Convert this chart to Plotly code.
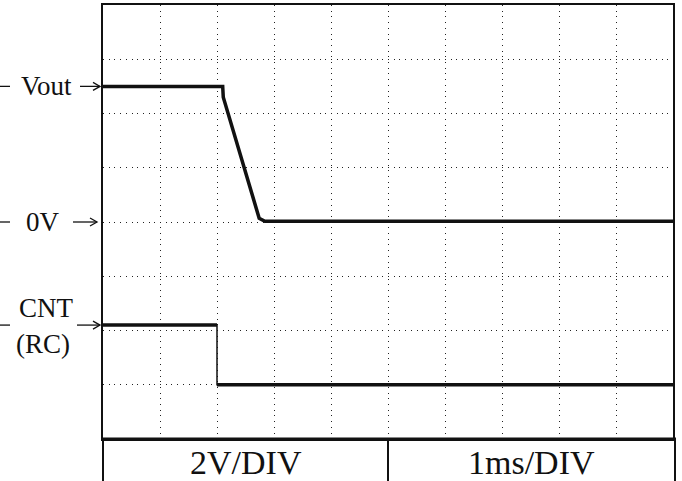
import plotly.graph_objects as go

# Screen layout: 10 horizontal divisions (1 ms each), 8 vertical divisions (2 V each)
X_DIVS = 10
Y_DIVS = 8
VOLTS_PER_DIV = 2.0

# Channel ground positions on the screen (in divisions from the bottom)
VOUT_GROUND_DIV = 4.0
CNT_GROUND_DIV = 1.0

# Vout trace: time in ms, voltage in V
vout_t = [0.0, 2.10, 2.11, 2.74, 2.84, 10.0]
vout_v = [5.0, 5.0, 4.6, 0.14, 0.03, 0.03]

# CNT (RC) trace: time in ms, voltage in V
cnt_t = [0.0, 2.0, 2.0, 10.0]
cnt_v = [2.2, 2.2, 0.0, 0.0]

# Bottom scale legend
scale_labels = ["2V/DIV", "1ms/DIV"]

W, H = 682, 481
PX_LEFT, PX_RIGHT = 103, 673
PX_TOP, PX_BOTTOM = 5, 439
DIV_PX = (PX_BOTTOM - PX_TOP) / Y_DIVS

FONT = "Liberation Serif, Times New Roman, serif"
INK = "#111111"


def to_div(volts, ground):
    return [ground + v / VOLTS_PER_DIV for v in volts]


def px_x(px):
    return px / W


def px_y(py):
    return 1 - py / H


def thick_parts(t, y):
    # break the path at vertical edges so they can be drawn thin
    xs, ys = [t[0]], [y[0]]
    for i in range(1, len(t)):
        if t[i] == t[i - 1]:
            xs.append(None)
            ys.append(None)
        xs.append(t[i])
        ys.append(y[i])
    return xs, ys


vout_y = to_div(vout_v, VOUT_GROUND_DIV)
cnt_y = to_div(cnt_v, CNT_GROUND_DIV)

fig = go.Figure()

fig.add_trace(go.Scatter(x=vout_t, y=vout_y, mode="lines",
                         line=dict(color=INK, width=3.5), hoverinfo="skip"))
fig.add_trace(go.Scatter(x=cnt_t, y=cnt_y, mode="lines",
                         line=dict(color=INK, width=1.5), hoverinfo="skip"))
cx, cy = thick_parts(cnt_t, cnt_y)
fig.add_trace(go.Scatter(x=cx, y=cy, mode="lines", connectgaps=False,
                         line=dict(color=INK, width=3.5), hoverinfo="skip"))

shapes = []
annotations = []

# Left-side markers: dash, label, arrow pointing at the screen edge
vout_level = vout_y[0]
zero_level = VOUT_GROUND_DIV
cnt_level = cnt_y[0]
markers = [
    (vout_level, 80, 100),
    (zero_level, 73, 97),
    (cnt_level, 77, 100),
]
head_dx = 7
head_dy = 4 / DIV_PX
for level, x0, x1 in markers:
    shapes.append(dict(type="line", xref="paper", yref="y",
                       x0=0, x1=px_x(10), y0=level, y1=level,
                       line=dict(color=INK, width=1.3)))
    shapes.append(dict(type="line", xref="paper", yref="y",
                       x0=px_x(x0), x1=px_x(x1), y0=level, y1=level,
                       line=dict(color=INK, width=1.3)))
    path = (f"M{px_x(x1 - head_dx)},{level + head_dy} L{px_x(x1)},{level} "
            f"L{px_x(x1 - head_dx)},{level - head_dy}")
    shapes.append(dict(type="path", xref="paper", yref="y", path=path,
                       line=dict(color=INK, width=1.3)))

label_font = dict(family=FONT, size=27, color=INK)
annotations.append(dict(text="Vout", xref="paper", yref="y", x=px_x(46), y=vout_level,
                        xanchor="center", yanchor="middle", showarrow=False, font=label_font))
annotations.append(dict(text="0V", xref="paper", yref="y", x=px_x(42.5), y=zero_level,
                        xanchor="center", yanchor="middle", showarrow=False, font=label_font))
annotations.append(dict(text="CNT", xref="paper", yref="y", x=px_x(46), y=cnt_level,
                        yshift=17.5, xanchor="center", yanchor="middle",
                        showarrow=False, font=label_font))
annotations.append(dict(text="(RC)", xref="paper", yref="y", x=px_x(43), y=cnt_level,
                        yshift=-19, xanchor="center", yanchor="middle",
                        showarrow=False, font=label_font))

# Scale table under the screen
T_LEFT, T_MID, T_RIGHT = 103, 388, 675
shapes.append(dict(type="line", xref="paper", yref="paper",
                   x0=px_x(T_LEFT - 1), x1=px_x(T_RIGHT + 1),
                   y0=px_y(PX_BOTTOM), y1=px_y(PX_BOTTOM),
                   line=dict(color=INK, width=3)))
for xv in (T_LEFT, T_MID, T_RIGHT):
    shapes.append(dict(type="line", xref="paper", yref="paper",
                       x0=px_x(xv), x1=px_x(xv), y0=px_y(PX_BOTTOM), y1=px_y(H + 2),
                       line=dict(color=INK, width=2)))
cells = [(T_LEFT + T_MID) / 2, (T_MID + T_RIGHT) / 2]
for text, cxp in zip(scale_labels, cells):
    annotations.append(dict(text=text, xref="paper", yref="paper",
                            x=px_x(cxp), y=px_y(462), xanchor="center", yanchor="middle",
                            borderpad=0, showarrow=False,
                            font=dict(family=FONT, size=34, color=INK)))

grid_common = dict(showgrid=True, gridcolor="#222222", gridwidth=1,
                   griddash="1px,4.7px", zeroline=False, showticklabels=False,
                   ticks="", showline=True, mirror=True, linecolor=INK, linewidth=2,
                   dtick=1, tick0=0, fixedrange=True)

fig.update_layout(
    width=W, height=H,
    margin=dict(l=0, r=0, t=0, b=0),
    paper_bgcolor="white", plot_bgcolor="white",
    showlegend=False,
    xaxis=dict(range=[0, X_DIVS], domain=[px_x(PX_LEFT), px_x(PX_RIGHT)], **grid_common),
    yaxis=dict(range=[0, Y_DIVS], domain=[px_y(PX_BOTTOM), px_y(PX_TOP)], **grid_common),
    shapes=shapes,
    annotations=annotations,
)

fig.write_html("out.html", config={"displayModeBar": False})
